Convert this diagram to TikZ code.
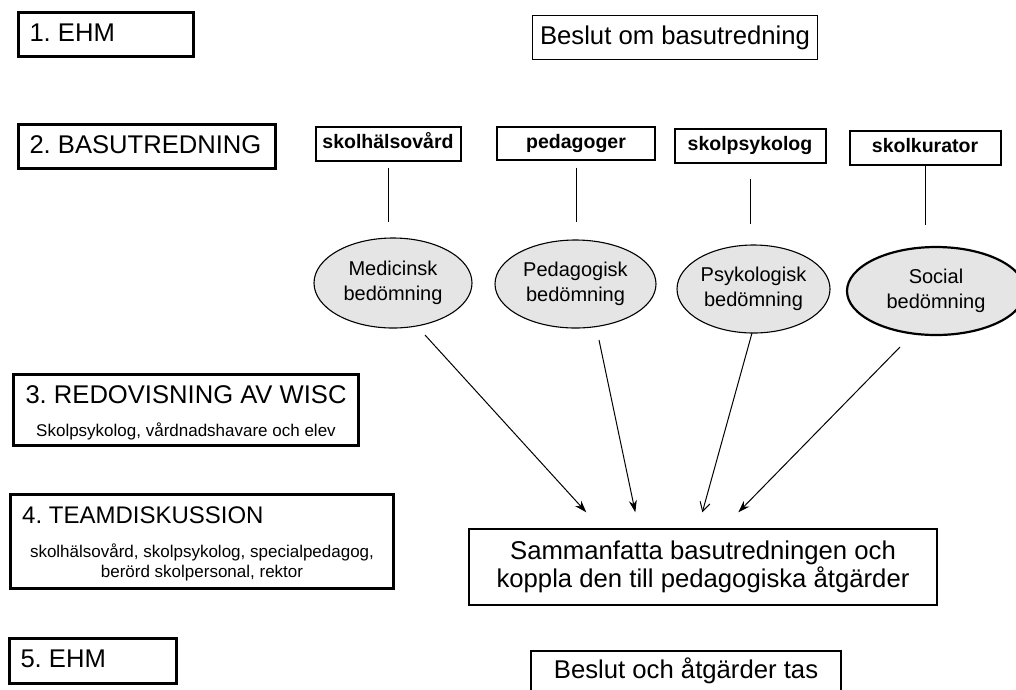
\documentclass[tikz,border=0pt]{standalone}
\usepackage{fontspec}
\setmainfont{Liberation Sans}
\usetikzlibrary{shapes.geometric,arrows.meta,calc}
\newcommand{\leftfit}[2]{\makebox[#1][l]{#2}}
\begin{document}
\frenchspacing
\begin{tikzpicture}[x=1pt,y=-1pt,
  titlebox/.style={draw, line width=3pt, rectangle, inner xsep=11pt, inner ysep=0pt,
    text height=19pt, text depth=6pt, font=\fontsize{25.6}{30}\selectfont},
  bigbox/.style={draw, line width=3pt, rectangle, inner sep=0pt},
  plainbox/.style={draw, line width=1.6pt, rectangle, inner sep=0pt,
    text height=19pt, text depth=6pt, font=\fontsize{25.7}{28}\selectfont},
  sumbox/.style={draw, line width=1.4pt, rectangle, inner sep=0pt, align=center,
    font=\fontsize{25.7}{28}\selectfont},
  rolebox/.style={draw, line width=2pt, rectangle, inner sep=0pt,
    text height=14pt, text depth=4pt, font=\bfseries\fontsize{19.5}{22}\selectfont},
  assess/.style={draw, ellipse, line width=1.1pt, fill=black!10, inner sep=0pt,
    align=center, font=\fontsize{20}{25}\selectfont},
  titletext/.style={inner sep=0pt, font=\fontsize{25.6}{30}\selectfont},
  subtext/.style={inner sep=0pt, font=\fontsize{17}{20}\selectfont},
  conn/.style={line width=1pt},
  arr/.style={line width=1pt, -{Stealth[length=12pt,width=8pt]}},
  arropen/.style={line width=1pt, -{Straight Barb[length=9pt,width=10pt]}}
]
\useasboundingbox (0,0) rectangle (1016,689);
\clip (0,0) rectangle (1016,689);

% left column
\node[titlebox, minimum height=44pt] (ehm1) at (106,34.5) {\leftfit{153pt}{1. EHM}};
\node[titlebox, minimum height=44pt] (bas) at (147,146.5) {\leftfit{235pt}{2. BASUTREDNING}};

\node[bigbox, minimum width=345pt, minimum height=71pt] (redov) at (186,410) {};
\node[titletext, anchor=base] (redovt) at (186,403) {3. REDOVISNING AV WISC};
\node[subtext, anchor=base] (redovs) at (186,436) {Skolpsykolog, vårdnadshavare och elev};

\node[bigbox, minimum width=383pt, minimum height=94pt] (team) at (202,541.5) {};
\node[titletext, anchor=base west, font=\fontsize{24}{28}\selectfont] (teamt) at (22,523) {4. TEAMDISKUSSION};
\node[subtext, anchor=base] (teams1) at (202,557) {skolhälsovård, skolpsykolog, specialpedagog,};
\node[subtext, anchor=base] (teams2) at (202,577) {berörd skolpersonal, rektor};

\node[titlebox, minimum height=45pt] (ehm5) at (93,661) {\leftfit{145pt}{5. EHM}};

% right part
\node[plainbox, minimum width=285pt, minimum height=44pt] (beslut1) at (675,37.5) {Beslut om basutredning};

\node[rolebox, minimum width=145pt, minimum height=34pt] (s1) at (388,143.5) {skolhälsovård};
\node[rolebox, minimum width=158pt, minimum height=33pt] (s2) at (576,143) {pedagoger};
\node[rolebox, minimum width=151pt, minimum height=34pt] (s3) at (750,145.5) {skolpsykolog};
\node[rolebox, minimum width=151pt, minimum height=34pt] (s4) at (925,147.5) {skolkurator};

\node[assess, minimum width=158pt, minimum height=90pt] (e1) at (393,283) {Medicinsk\\bedömning};
\node[assess, minimum width=161pt, minimum height=88pt] (e2) at (575.5,284) {Pedagogisk\\bedömning};
\node[assess, minimum width=153pt, minimum height=88pt] (e3) at (753.5,289) {Psykologisk\\bedömning};
\node[assess, line width=2.2pt, minimum width=178pt, minimum height=88pt] (e4) at (936,291) {Social\\bedömning};

\draw[conn] ($(s1.south)+(0,6)$) -- ($(s1.south |- e1.north)+(0,-15)$);
\draw[conn] ($(s2.south)+(0,7)$) -- ($(s2.south |- e2.north)+(0,-17)$);
\draw[conn] ($(s3.south)+(0,15)$) -- ($(s3.south |- e3.north)+(0,-20)$);
\draw[conn] (s4.south) -- ($(s4.south |- e4.north)+(0,-21)$);

\node[sumbox, minimum width=468pt, minimum height=76pt] (sum) at (703,567)
  {Sammanfatta basutredningen och\\koppla den till pedagogiska åtgärder};

\draw[arr] ($(e1.center)+(32,52)$) -- ($(sum.north west)+(118,-16)$);
\draw[arr] ($(e2.center)+(23.5,56)$) -- ($(sum.north west)+(167,-16)$);
\draw[arropen] ($(e3.center)+(-1.5,44)$) -- ($(sum.north west)+(234,-16)$);
\draw[arr] ($(e4.center)+(-36,56)$) -- ($(sum.north west)+(270,-16)$);

\node[plainbox, line width=1.4pt, minimum width=310pt, minimum height=41pt] (beslut2) at (686,671.5) {Beslut och åtgärder tas};
\end{tikzpicture}
\end{document}
